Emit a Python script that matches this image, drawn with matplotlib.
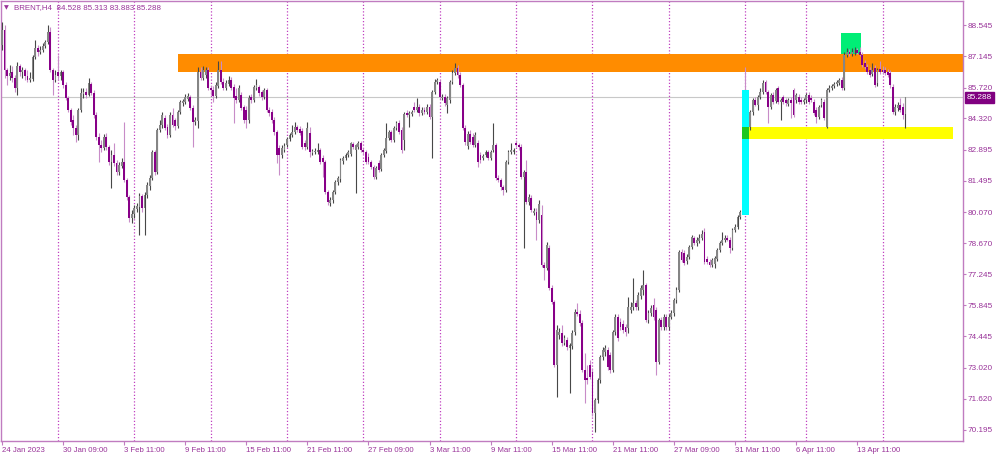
# coding=utf-8
import numpy as np
import matplotlib
matplotlib.use('Agg')
from matplotlib import pyplot as plt
from matplotlib import transforms
from matplotlib.patches import Rectangle

symbol = 'BRENT,H4'

# H4 bars in each trading week (chart starts Tue 24 Jan, Easter week is short)
week_bars = [22, 30, 30, 30, 30, 30, 30, 30, 30, 30, 24, 30, 10]

opens = [
    87.65, 88.33, 86.52, 86.24, 86.43, 86.15, 85.70, 86.70, 86.43, 86.52, 86.24, 86.06, 86.11, 87.11, 87.51, 87.33, 87.42, 87.60, 87.79, 88.24, 86.52, 86.06,
    86.43, 86.24, 86.43, 85.84, 85.25, 84.70, 84.25, 83.89, 83.57, 84.70, 85.43, 85.52, 85.38, 85.88, 85.47, 84.48, 83.48, 83.12, 82.98, 83.48, 83.03, 82.34, 82.66, 82.30, 81.89, 82.16, 82.34, 81.53, 80.76, 79.81,
    79.99, 80.21, 80.30, 80.80, 80.26, 80.85, 81.26, 81.62, 82.80, 81.89, 83.80, 84.02, 84.34, 83.93, 83.57, 84.48, 84.25, 83.98, 84.61, 85.02, 85.07, 85.20, 85.29, 84.79, 84.16, 84.20, 86.43, 86.15, 86.29, 86.52,
    85.70, 85.61, 85.34, 85.79, 86.52, 85.97, 85.70, 85.88, 86.06, 85.75, 85.34, 85.16, 85.38, 84.84, 84.70, 84.25, 85.29, 85.16, 85.70, 85.75, 85.52, 85.29, 85.61, 84.70, 84.61, 84.25, 83.70, 82.98, 82.66, 82.89,
    83.12, 83.39, 83.57, 83.70, 83.93, 83.84, 83.75, 83.21, 83.03, 83.66, 82.75, 82.80, 82.80, 82.89, 82.53, 82.34, 80.99, 80.49, 80.62, 80.99, 81.44, 81.57, 82.39, 82.53, 82.66, 82.71, 83.16, 82.89, 83.03, 83.21,
    82.89, 82.80, 82.57, 82.34, 82.12, 81.66, 82.30, 82.03, 82.66, 82.84, 83.43, 83.70, 83.34, 83.89, 84.11, 83.80, 83.34, 84.57, 84.48, 84.52, 84.84, 84.70, 84.84, 84.57, 84.70, 84.61, 84.84, 84.39, 85.52, 85.97,
    85.97, 85.25, 85.29, 84.93, 85.16, 85.97, 86.38, 86.61, 86.29, 85.84, 83.89, 83.07, 83.61, 83.48, 83.12, 83.21, 82.66, 82.53, 82.66, 82.80, 82.53, 82.89, 83.12, 81.62, 81.53, 81.21, 81.08, 82.34, 82.80, 82.80,
    83.21, 83.12, 83.03, 81.66, 81.89, 80.53, 80.71, 80.03, 80.08, 79.72, 79.94, 77.67, 77.54, 78.45, 76.63, 76.00, 73.14, 74.50, 74.59, 74.14, 74.27, 73.91, 74.00, 74.64, 75.54, 75.45, 75.05, 72.91, 72.55, 73.14,
    72.82, 70.96, 71.55, 72.46, 73.50, 73.73, 73.82, 73.60, 72.91, 74.64, 75.32, 75.09, 75.00, 74.86, 74.82, 75.63, 75.77, 75.95, 75.77, 76.27, 76.54, 76.77, 75.18, 75.50, 75.86, 75.63, 73.28, 75.18, 74.86, 75.32,
    74.86, 75.32, 75.50, 76.09, 76.54, 78.26, 78.22, 77.86, 78.04, 78.49, 78.90, 78.67, 78.76, 78.90, 79.17, 77.95, 77.81, 77.67, 77.72, 77.95, 78.35, 78.67, 78.81, 78.90, 78.81, 78.45, 79.26, 79.40, 79.85, 80.08,
    84.70, 84.34, 83.93, 84.61, 85.16, 84.93, 85.29, 85.52, 85.97, 85.52, 84.84, 85.38, 85.11, 85.70, 85.07, 85.29, 85.16, 84.97, 85.16, 85.61, 85.16, 85.29, 85.16, 85.07,
    85.16, 85.38, 85.25, 85.07, 84.70, 84.39, 84.93, 85.07, 83.93, 85.61, 85.70, 85.79, 85.88, 85.93, 86.06, 85.70, 87.20, 87.33, 87.24, 87.29, 87.42, 87.33, 87.20, 86.83, 86.65, 86.52, 86.33, 86.61, 85.93, 86.56,
    86.52, 86.52, 86.43, 86.38, 85.75, 84.61, 84.79, 84.93, 84.84, 84.528,
]
highs = [
    88.69, 88.56, 86.61, 86.74, 86.70, 86.29, 86.88, 86.79, 86.65, 86.61, 86.52, 86.43, 87.20, 87.88, 87.65, 87.60, 87.74, 87.88, 88.56, 88.47, 86.61, 86.52,
    87.20, 86.52, 86.52, 85.97, 85.34, 84.79, 84.48, 84.02, 84.79, 85.70, 85.70, 85.70, 86.15, 85.97, 85.61, 84.61, 83.66, 83.34, 83.61, 83.66, 83.12, 82.89, 83.21, 82.44, 82.34, 82.53, 84.16, 81.62, 80.85, 80.17,
    80.40, 80.49, 80.94, 80.89, 80.99, 81.44, 81.75, 82.89, 82.89, 83.89, 84.25, 84.61, 84.48, 84.07, 84.61, 84.79, 84.34, 84.70, 85.16, 85.20, 85.43, 85.47, 85.38, 84.93, 84.39, 86.65, 86.65, 86.70, 86.65, 86.65,
    85.84, 85.79, 85.97, 86.92, 86.92, 86.15, 86.06, 86.24, 86.20, 85.88, 85.70, 85.84, 85.52, 84.93, 84.88, 85.38, 85.43, 85.84, 86.11, 85.84, 85.61, 85.70, 85.70, 84.84, 84.75, 84.39, 83.80, 83.12, 83.12, 83.21,
    83.48, 83.66, 84.02, 84.16, 84.02, 83.98, 83.89, 83.34, 84.16, 83.93, 82.93, 82.98, 83.21, 82.98, 82.66, 82.44, 81.08, 80.76, 81.08, 81.53, 81.71, 82.53, 82.62, 82.75, 82.89, 83.25, 83.25, 83.16, 83.30, 83.30,
    82.98, 82.89, 82.75, 82.44, 82.21, 82.16, 82.44, 82.75, 82.98, 84.11, 83.80, 83.80, 83.98, 84.20, 84.25, 83.93, 84.61, 84.70, 84.66, 84.70, 85.07, 85.25, 84.97, 84.84, 84.84, 84.97, 84.97, 85.61, 86.11, 86.15,
    86.06, 85.43, 85.43, 85.34, 86.06, 86.52, 86.83, 86.74, 86.43, 85.93, 84.02, 83.75, 83.80, 83.66, 83.70, 83.34, 82.80, 82.71, 82.89, 82.89, 82.89, 84.11, 83.21, 81.75, 81.62, 81.30, 82.44, 82.89, 83.21, 82.98,
    83.34, 83.21, 83.16, 81.98, 82.44, 80.89, 80.85, 80.26, 80.26, 80.62, 80.40, 77.81, 78.72, 78.58, 76.77, 76.09, 74.95, 74.82, 74.95, 74.50, 74.41, 74.14, 74.73, 75.68, 75.95, 75.63, 75.18, 73.69, 73.14, 73.37,
    73.01, 71.64, 72.55, 73.60, 73.96, 74.05, 73.96, 73.73, 74.73, 75.45, 75.45, 75.27, 75.18, 75.00, 76.22, 76.00, 77.09, 76.09, 76.45, 76.77, 77.45, 76.86, 75.63, 75.86, 76.18, 75.77, 75.27, 75.32, 75.45, 75.45,
    75.45, 75.63, 76.18, 76.68, 78.35, 78.40, 78.35, 78.17, 78.58, 79.03, 78.99, 78.94, 79.08, 79.26, 79.35, 78.08, 77.95, 77.99, 78.08, 78.45, 78.76, 79.17, 79.03, 79.03, 78.94, 79.35, 79.53, 79.94, 80.17, 80.30,
    86.65, 84.61, 84.70, 85.25, 85.29, 85.38, 85.70, 86.06, 86.06, 85.61, 85.47, 85.52, 85.70, 85.79, 85.25, 85.38, 85.25, 85.25, 85.29, 85.70, 85.47, 85.43, 85.29, 85.25,
    85.47, 85.52, 85.38, 85.20, 84.84, 84.93, 85.25, 85.20, 85.70, 85.84, 85.88, 85.97, 86.06, 86.15, 86.20, 87.33, 87.51, 87.47, 87.51, 87.56, 87.51, 87.56, 87.33, 86.97, 86.79, 86.65, 86.83, 86.74, 86.61, 86.92,
    86.70, 86.65, 86.56, 86.52, 85.88, 84.97, 85.07, 85.25, 85.02, 85.313,
]
lows = [
    87.42, 86.15, 85.84, 86.06, 85.97, 85.52, 85.38, 86.24, 86.15, 86.06, 85.97, 85.97, 86.02, 87.02, 87.15, 87.24, 87.33, 87.51, 87.70, 86.43, 85.38, 85.97,
    86.06, 86.06, 85.70, 85.16, 84.61, 84.02, 83.57, 83.25, 83.34, 84.61, 85.25, 85.25, 85.34, 85.38, 84.34, 83.34, 82.34, 82.80, 82.89, 82.89, 82.21, 81.17, 82.16, 81.75, 81.75, 82.07, 81.44, 80.62, 79.62, 79.58,
    79.81, 80.08, 79.03, 80.08, 79.03, 80.71, 81.08, 81.53, 81.75, 81.80, 83.70, 83.89, 83.80, 83.43, 83.48, 83.93, 83.80, 83.89, 84.52, 84.88, 84.97, 85.11, 84.70, 83.03, 84.02, 83.89, 86.06, 86.06, 86.15, 85.61,
    85.38, 85.07, 85.25, 85.70, 85.88, 85.61, 85.61, 85.79, 85.61, 84.11, 85.02, 85.07, 84.70, 84.11, 83.89, 84.11, 85.02, 85.07, 85.61, 85.34, 85.16, 85.20, 84.61, 84.43, 84.11, 83.57, 82.30, 81.75, 82.53, 82.80,
    83.03, 83.30, 83.48, 83.61, 83.70, 83.57, 82.93, 82.89, 82.93, 82.57, 82.66, 82.71, 82.71, 82.25, 81.66, 80.89, 80.40, 80.35, 80.49, 80.89, 81.30, 81.44, 82.25, 82.44, 82.57, 82.62, 82.93, 80.94, 82.93, 82.80,
    82.71, 82.25, 82.25, 82.03, 81.57, 81.57, 81.89, 81.94, 82.57, 82.75, 83.34, 83.25, 83.25, 83.80, 83.61, 82.75, 82.89, 84.39, 83.93, 84.43, 84.61, 84.61, 84.43, 84.48, 84.52, 84.52, 84.29, 82.53, 85.43, 85.88,
    85.20, 85.16, 84.88, 84.57, 85.02, 85.88, 86.29, 86.15, 85.75, 83.80, 83.12, 82.93, 83.16, 83.03, 83.03, 82.12, 82.30, 82.44, 82.57, 82.44, 82.44, 82.80, 81.53, 81.44, 81.08, 80.85, 80.99, 82.25, 82.71, 82.71,
    83.03, 82.89, 81.57, 78.45, 80.44, 80.40, 80.08, 79.94, 78.81, 79.58, 77.58, 77.00, 77.45, 76.54, 75.91, 73.05, 71.69, 74.32, 74.00, 74.05, 73.82, 71.87, 73.87, 74.50, 75.36, 74.91, 72.82, 71.42, 72.28, 72.51,
    70.83, 70.10, 71.42, 72.32, 73.37, 73.55, 72.91, 72.78, 72.82, 74.50, 74.23, 74.73, 74.59, 74.46, 74.59, 75.50, 75.63, 75.63, 75.63, 76.13, 76.32, 75.09, 75.05, 75.36, 75.18, 72.69, 73.19, 74.73, 74.73, 74.73,
    74.73, 75.23, 75.36, 75.95, 76.45, 77.81, 77.67, 77.72, 77.95, 78.40, 78.58, 78.54, 78.67, 78.81, 77.72, 77.72, 77.58, 77.58, 77.54, 77.86, 78.26, 78.58, 78.72, 78.76, 78.22, 78.35, 79.17, 79.31, 79.76, 79.99,
    84.02, 83.80, 83.80, 84.48, 84.88, 84.70, 85.20, 85.43, 85.43, 84.11, 84.75, 84.97, 85.02, 84.97, 84.25, 84.97, 84.88, 84.88, 84.34, 84.39, 85.02, 84.97, 84.97, 84.97,
    85.02, 84.97, 85.07, 84.48, 84.11, 84.29, 84.84, 84.25, 83.89, 85.52, 85.61, 85.70, 85.79, 85.84, 85.61, 85.61, 87.11, 87.15, 87.15, 87.20, 87.24, 87.15, 86.65, 86.56, 86.33, 86.20, 86.24, 85.75, 85.79, 86.33,
    86.33, 86.29, 86.20, 85.70, 84.52, 84.48, 84.66, 84.61, 84.29, 83.883,
]
closes = [
    88.33, 86.52, 86.24, 86.38, 86.15, 85.70, 86.70, 86.43, 86.52, 86.24, 86.06, 86.15, 87.11, 87.51, 87.33, 87.42, 87.60, 87.79, 88.24, 86.52, 86.06, 86.29,
    86.24, 86.43, 85.84, 85.25, 84.70, 84.16, 83.89, 83.57, 84.70, 85.47, 85.52, 85.38, 85.93, 85.47, 84.48, 83.48, 83.12, 82.98, 83.48, 83.03, 82.34, 82.66, 82.30, 81.89, 82.21, 82.34, 81.53, 80.76, 79.81, 79.99,
    80.26, 80.35, 80.80, 80.26, 80.85, 81.30, 81.62, 82.80, 81.89, 83.80, 84.02, 84.48, 83.89, 83.57, 84.48, 84.02, 83.98, 84.61, 85.07, 85.11, 85.29, 85.34, 84.79, 84.16, 84.25, 86.43, 86.15, 86.52, 86.52, 85.70,
    85.61, 85.34, 85.84, 86.52, 85.97, 85.70, 85.93, 86.06, 85.70, 85.25, 85.16, 85.70, 84.79, 84.25, 84.25, 85.25, 85.16, 85.75, 85.84, 85.47, 85.29, 85.61, 84.70, 84.57, 84.25, 83.70, 82.66, 82.66, 82.98, 83.07,
    83.39, 83.57, 83.70, 83.93, 83.80, 83.66, 83.03, 83.03, 83.89, 82.80, 82.84, 82.84, 82.89, 82.34, 82.34, 80.99, 80.53, 80.62, 80.99, 81.44, 81.62, 82.44, 82.53, 82.66, 82.80, 83.21, 83.03, 83.12, 83.21, 82.89,
    82.80, 82.34, 82.34, 82.12, 81.66, 82.07, 81.98, 82.66, 82.89, 83.43, 83.70, 83.34, 83.89, 84.11, 83.70, 82.89, 84.52, 84.48, 84.57, 84.61, 84.70, 84.84, 84.57, 84.70, 84.61, 84.84, 84.39, 85.52, 85.97, 86.06,
    85.29, 85.29, 85.02, 85.25, 85.97, 86.38, 86.61, 86.29, 85.84, 83.89, 83.25, 83.61, 83.25, 83.12, 83.57, 82.34, 82.44, 82.62, 82.80, 82.53, 82.80, 83.12, 81.62, 81.53, 81.21, 81.08, 82.34, 82.80, 82.89, 82.89,
    83.12, 83.03, 81.66, 81.89, 80.53, 80.76, 80.17, 80.12, 79.72, 80.44, 77.67, 77.54, 78.58, 76.63, 76.00, 73.14, 74.73, 74.64, 74.14, 74.37, 73.96, 74.05, 74.59, 75.54, 75.45, 75.05, 72.91, 72.46, 72.46, 72.60,
    70.96, 71.55, 72.46, 73.50, 73.82, 73.91, 73.05, 72.91, 74.64, 75.32, 74.37, 74.86, 74.73, 74.64, 75.77, 75.77, 75.95, 75.77, 76.32, 76.63, 76.77, 75.18, 75.50, 75.73, 75.32, 73.28, 75.18, 74.86, 75.32, 74.86,
    75.32, 75.50, 76.09, 76.54, 78.26, 77.90, 77.77, 78.04, 78.49, 78.94, 78.67, 78.81, 78.90, 79.08, 77.81, 77.81, 77.67, 77.90, 77.99, 78.35, 78.67, 78.81, 78.90, 78.81, 78.45, 79.26, 79.40, 79.85, 80.08, 80.21,
    84.34, 83.93, 84.61, 85.16, 84.93, 85.29, 85.52, 85.93, 85.52, 84.84, 85.38, 85.07, 85.61, 85.07, 85.16, 85.07, 85.02, 85.16, 85.02, 84.48, 85.38, 85.07, 85.07, 85.16,
    85.38, 85.07, 85.16, 84.57, 84.39, 84.84, 85.16, 84.34, 85.61, 85.70, 85.79, 85.88, 85.97, 86.06, 85.70, 87.20, 87.33, 87.24, 87.33, 87.42, 87.29, 87.20, 86.74, 86.65, 86.43, 86.29, 86.52, 85.84, 86.52, 86.43,
    86.43, 86.38, 86.29, 85.84, 84.61, 84.84, 84.93, 84.70, 84.48, 85.288,
]

x_labels = ['24 Jan 2023', '30 Jan 09:00', '3 Feb 11:00', '9 Feb 11:00', '15 Feb 11:00',
            '21 Feb 11:00', '27 Feb 09:00', '3 Mar 11:00', '9 Mar 11:00', '15 Mar 11:00',
            '21 Mar 11:00', '27 Mar 09:00', '31 Mar 11:00', '6 Apr 11:00', '13 Apr 11:00']
label_every = 24  # one time label every 24 bars

price_ticks = [88.545, 87.145, 85.720, 84.320, 82.895, 81.495, 80.070,
               78.670, 77.245, 75.845, 74.445, 73.020, 71.620, 70.195]

# zones drawn by hand on the chart: (from bar, to bar, low price, high price)
resist_zone = (69.2, 400.0, 86.43, 87.22)
top_zone = (329.7, 337.5, 86.9, 88.20)
gap_zone = (290.6, 293.5, 79.94, 85.61)
support_zone = (290.8, 373.7, 83.39, 83.93)

TXT = '#993399'
FRAME = '#c07cc0'


def zone(ax, z, color, zorder):
    x0, x1, lo, hi = z
    ax.add_patch(Rectangle((x0, lo), x1 - x0, hi - lo, facecolor=color,
                           edgecolor='none', zorder=zorder))


def draw(ax):
    o = np.array(opens)
    h = np.array(highs)
    l = np.array(lows)
    c = np.array(closes)
    idx = np.arange(len(o))
    up = c >= o

    # weekly period separators
    seps = np.cumsum(week_bars)[:-1]
    for s in seps:
        ax.axvline(s, color='#c040c0', lw=0.9, ls=(0, (1.0, 1.6)), zorder=1)

    zone(ax, top_zone, '#00ee76', 2)
    zone(ax, resist_zone, '#ff8c00', 2.1)
    zone(ax, support_zone, '#ffff00', 2)

    ax.axhline(closes[-1], color='#c8c8c8', lw=0.8, zorder=2.5)

    ax.vlines(idx[up], l[up], h[up], color='#474747', lw=0.8, zorder=3)
    ax.vlines(idx[~up], l[~up], h[~up], color='#c88cc8', lw=0.8, zorder=3)
    body = c - o
    body = np.where(np.abs(body) < 0.03, np.where(up, 0.03, -0.03), body)
    ax.bar(idx[up], body[up], bottom=o[up], width=0.72, color='#858585', zorder=4)
    ax.bar(idx[~up], body[~up], bottom=o[~up], width=0.72, color='#880088', zorder=4)

    # the gap bar box hides the candles under it
    zone(ax, gap_zone, '#00ffff', 5)
    gz = (gap_zone[0], gap_zone[1], support_zone[2], support_zone[3])
    zone(ax, gz, '#1ec81e', 5.5)


def main():
    plt.rcParams['font.family'] = ['Liberation Sans', 'DejaVu Sans']
    fig = plt.figure(figsize=(10, 4.57), dpi=100)
    ax = fig.add_axes([0.001, 16 / 457., 0.962, 440 / 457.])

    draw(ax)

    ax.set_xlim(-0.39, 377.6)
    ax.set_ylim(69.695, 89.645)

    for sp in ax.spines.values():
        sp.set_color(FRAME)
        sp.set_linewidth(1.0)

    ax.yaxis.tick_right()
    ax.set_yticks(price_ticks)
    ax.set_yticklabels(['%.3f' % p for p in price_ticks])
    ax.tick_params(axis='y', direction='out', length=2, width=0.8, color=FRAME,
                   labelcolor=TXT, labelsize=5.9, pad=1.5)

    ax.set_xticks(np.arange(len(x_labels)) * label_every)
    ax.set_xticklabels(x_labels)
    ax.tick_params(axis='x', direction='out', length=3, width=0.8, color=FRAME,
                   labelcolor=TXT, labelsize=5.6, pad=1.5)
    for lab in ax.get_xticklabels():
        lab.set_ha('left')

    # current price box on the price scale
    tr = transforms.blended_transform_factory(ax.transAxes, ax.transData)
    ax.text(1.004, closes[-1], '%.3f' % closes[-1], transform=tr, color='white',
            fontsize=5.9, va='center', ha='left', clip_on=False, zorder=10,
            bbox=dict(boxstyle='square,pad=0.25', facecolor='#800080', edgecolor='#800080'))

    # symbol line, top left
    fig.text(0.004, 1 - 7.5 / 457., u'\u25bc', color=TXT, fontsize=4.5, va='center',
             family=['DejaVu Sans'])
    head = '%s  %.3f %.3f %.3f %.3f' % (symbol, opens[-1], highs[-1], lows[-1], closes[-1])
    fig.text(0.0135, 1 - 7.5 / 457., head, color=TXT, fontsize=5.7, va='center')

    fig.savefig('out.png', dpi=100, facecolor='white')


if __name__ == '__main__':
    main()
